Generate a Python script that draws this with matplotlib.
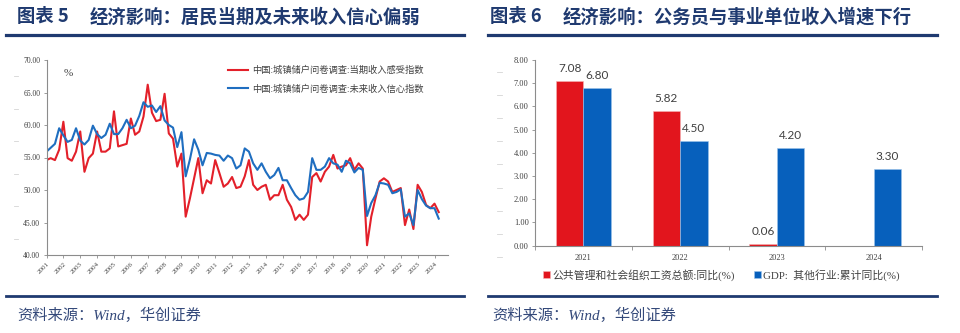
import numpy as np
import matplotlib
matplotlib.use("Agg")
import matplotlib.pyplot as plt
from matplotlib.lines import Line2D
from matplotlib.font_manager import FontProperties
from matplotlib.transforms import blended_transform_factory

plt.rcParams['font.family'] = ['Noto Sans CJK SC', 'DejaVu Sans']

# ---- Left panel: PBOC urban depositor survey, quarterly, 2001Q1-2024Q2 ----
year_labels = [str(y) for y in range(2001, 2025)]
income_sentiment = [
    54.6, 54.9, 54.6, 56.2, 60.5, 54.9, 54.5, 55.9, 59.0, 52.8, 54.9, 55.6,
    59.0, 55.9, 55.9, 56.4, 62.1, 56.7, 56.9, 57.1, 61.0, 58.5, 59.0, 61.3,
    66.2, 61.9, 60.6, 60.8, 64.8, 58.7, 57.9, 53.6, 55.6, 45.9, 48.7, 51.8,
    54.9, 49.5, 51.5, 51.0, 54.6, 52.6, 50.5, 51.0, 52.0, 50.3, 50.5, 52.1,
    54.6, 50.8, 50.0, 50.5, 50.8, 48.5, 49.2, 49.2, 50.8, 48.5, 47.4, 45.4,
    46.2, 45.4, 46.2, 52.0, 52.6, 51.3, 52.8, 53.6, 55.4, 53.3, 53.6, 53.8,
    54.9, 53.1, 54.1, 53.3, 41.5, 45.9, 48.7, 51.3, 51.8, 51.3, 49.7, 50.0,
    50.3, 44.6, 47.0, 44.0, 50.8, 49.7, 47.7, 47.2, 47.9, 46.6,
]
income_confidence = [
    55.9, 56.5, 57.1, 59.5, 58.4, 57.4, 57.7, 59.5, 57.6, 57.0, 57.7, 59.9,
    58.6, 58.0, 58.5, 60.2, 58.6, 58.6, 59.5, 60.8, 59.5, 59.9, 61.4, 63.5,
    62.8, 63.0, 62.0, 62.9, 60.7, 60.0, 59.6, 56.6, 58.9, 52.1, 54.7, 57.8,
    56.2, 53.8, 55.7, 55.6, 55.4, 55.3, 54.5, 55.3, 54.9, 53.3, 53.8, 56.4,
    55.9, 54.1, 53.1, 54.1, 52.8, 51.8, 52.3, 53.4, 51.5, 51.5, 50.3, 49.2,
    48.5, 48.7, 49.7, 54.9, 53.1, 53.1, 53.6, 54.9, 54.1, 53.9, 52.8, 54.5,
    54.1, 52.7, 53.4, 53.1, 46.0, 48.0, 49.2, 51.1, 51.0, 50.8, 49.5, 49.7,
    50.1, 45.9, 46.4, 44.6, 50.0, 48.6, 47.6, 47.2, 47.2, 45.6,
]
left_series_names = ['中国:城镇储户问卷调查:当期收入感受指数',
                     '中国:城镇储户问卷调查:未来收入信心指数']

# ---- Right panel: annual growth rates ----
bar_years = ['2021', '2022', '2023', '2024']
public_wage_yoy = [7.08, 5.82, 0.06, np.nan]
gdp_other_yoy = [6.80, 4.50, 4.20, 3.30]
right_series_names = ['公共管理和社会组织工资总额:同比(%)',
                      'GDP:  其他行业:累计同比(%)']

NAVY = '#1F3A70'
RED = '#E3202A'
BLUE_LINE = '#1F6EC0'
BAR_RED = '#E2151D'
BAR_BLUE = '#0760BC'
AXIS = '#8C8C8C'
TXT = '#404040'
W, H = 960, 333

fig = plt.figure(figsize=(W / 100, H / 100), dpi=100)


def fx(x):
    return x / W


def fy(y):
    return 1 - y / H


# ---- headers, rules and source lines ----
for x0, num, title in [(17, '图表 5', '经济影响：居民当期及未来收入信心偏弱'),
                       (490, '图表 6', '经济影响：公务员与事业单位收入增速下行')]:
    fig.text(fx(x0), fy(17), num, fontsize=13.2, fontweight='bold', color=NAVY,
             va='center', ha='left')
    fig.text(fx(x0 + 73), fy(17), title, fontsize=13.2, fontweight='bold',
             color=NAVY, va='center', ha='left')
for xa, xb in [(6, 464), (488, 937)]:
    fig.add_artist(Line2D([fx(xa), fx(xb)], [fy(35), fy(35)], lw=2.3, color=NAVY))
    fig.add_artist(Line2D([fx(xa), fx(xb)], [fy(296), fy(296)], lw=2.0, color=NAVY))
for x0 in (17, 492):
    fig.text(fx(x0), fy(315), '资料来源：Wind，华创证券', fontsize=11,
             style='italic', color='#34497A', va='center', ha='left',
             family=['Liberation Serif', 'Noto Sans CJK SC'])

serif_small = ['Liberation Serif', 'DejaVu Serif']

# ---- Left chart ----
axL = fig.add_axes([fx(46.5), fy(255), fx(448) - fx(46.5), fy(60) - fy(255)])
qx = np.arange(len(income_sentiment))
axL.plot(qx, income_sentiment, color=RED, lw=1.5, label=left_series_names[0])
axL.plot(qx, income_confidence, color=BLUE_LINE, lw=1.5, label=left_series_names[1])
axL.set_xlim(0, 95.2)
axL.set_ylim(40, 70)
axL.set_yticks(np.arange(40, 71, 5))
axL.set_yticklabels([f'{v:.2f}' for v in np.arange(40, 71, 5)],
                    family=serif_small, fontsize=5.5, color=TXT)
axL.set_xticks(np.arange(0, 4 * len(year_labels), 4))
axL.set_xticklabels(year_labels, rotation=45, ha='right', va='top',
                    rotation_mode='anchor', family=serif_small, fontsize=5,
                    color=TXT)
axL.tick_params(axis='both', length=2.5, width=0.6, color=AXIS, pad=2)
for s in ('top', 'right'):
    axL.spines[s].set_visible(False)
for s in ('left', 'bottom'):
    axL.spines[s].set_color(AXIS)
    axL.spines[s].set_linewidth(0.8)
axL.text((68 - 46.5) / 401.5, (255 - 74) / 195, '%', transform=axL.transAxes,
         fontsize=8, color=TXT, ha='center', va='center', family=serif_small)
axL.legend(loc='upper left', bbox_to_anchor=((228 - 46.5) / 401.5, (255 - 66) / 195),
           frameon=False, handlelength=2.2, handletextpad=0.4, labelspacing=0.95,
           borderpad=0, borderaxespad=0, labelcolor=TXT,
           prop=FontProperties(family=['Noto Sans CJK SC'], size=6.7))

# faint guide marks left of the value axis
trL = blended_transform_factory(fig.transFigure, axL.transData)
for v in np.arange(42.5, 70, 5):
    fig.add_artist(Line2D([fx(14), fx(18)], [v, v], transform=trL,
                          color='#D5D5D5', lw=0.6))

# ---- Right chart ----
axR = fig.add_axes([fx(535), fy(245.7), fx(922) - fx(535), fy(60) - fy(245.7)])
bx = np.arange(len(bar_years))
bw = 0.284
bars_red = axR.bar(bx - bw / 2, public_wage_yoy, width=bw, color=BAR_RED,
                   edgecolor='#F5B5B5', linewidth=0.4, label=right_series_names[0])
bars_blue = axR.bar(bx + bw / 2, gdp_other_yoy, width=bw, color=BAR_BLUE,
                    edgecolor='#9CC3EA', linewidth=0.4, label=right_series_names[1])
for xs, vals in [(bx - bw / 2, public_wage_yoy), (bx + bw / 2, gdp_other_yoy)]:
    for xv, v in zip(xs, vals):
        if np.isnan(v):
            continue
        axR.annotate(f'{v:.2f}', (xv, v), xytext=(0, 5), textcoords='offset points',
                     ha='center', va='bottom', fontsize=8.5, color=TXT,
                     family=['Lato', 'DejaVu Sans'])
axR.set_xlim(-0.5, 3.5)
axR.set_ylim(0, 8)
axR.set_yticks(np.arange(0, 9, 1))
axR.set_yticklabels([f'{v:.2f}' for v in np.arange(0, 9, 1)],
                    family=serif_small, fontsize=6, color=TXT)
axR.set_xticks(bx)
axR.set_xticklabels(bar_years, family=serif_small, fontsize=6, color=TXT)
axR.set_xticks(np.arange(-0.5, 4, 1), minor=True)
axR.tick_params(axis='x', which='major', length=0, pad=6)
axR.tick_params(axis='x', which='minor', length=3, width=0.6, color=AXIS)
axR.tick_params(axis='y', length=2.5, width=0.6, color=AXIS, pad=2)
for s in ('top', 'right'):
    axR.spines[s].set_visible(False)
for s in ('left', 'bottom'):
    axR.spines[s].set_color(AXIS)
    axR.spines[s].set_linewidth(0.8)
fig.legend(handles=[bars_red, bars_blue], labels=right_series_names,
           loc='center left', bbox_to_anchor=(fx(543), fy(275)), ncol=2,
           frameon=False, handlelength=0.6, handleheight=0.6, handletextpad=0.25,
           columnspacing=1.8, borderpad=0, borderaxespad=0, labelcolor=TXT,
           prop=FontProperties(family=['Liberation Serif', 'Noto Sans CJK SC'], size=7.8))

trR = blended_transform_factory(fig.transFigure, axR.transData)
for v in np.arange(-0.5, 8.5, 1):
    fig.add_artist(Line2D([fx(497), fx(502)], [v, v], transform=trR,
                          color='#D5D5D5', lw=0.6))

fig.savefig('out.png', dpi=100)
